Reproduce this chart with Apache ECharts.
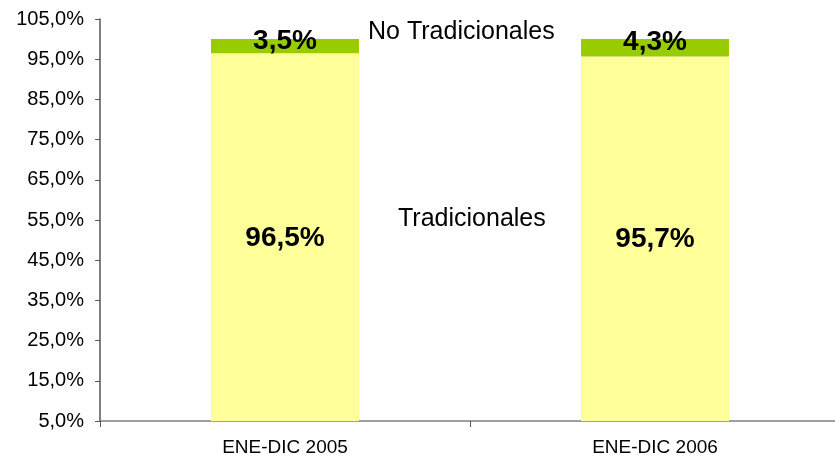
<!DOCTYPE html>
<html><head><meta charset="utf-8">
<script src="https://cdn.jsdelivr.net/npm/echarts@6/dist/echarts.min.js"></script>
<style>html,body{margin:0;padding:0;background:#fff}#c{width:835px;height:466px}</style>
</head><body><div id="c"></div>
<script>
const categories = ['ENE-DIC 2005', 'ENE-DIC 2006'];
const tradicionales = [96.5, 95.7];
const noTradicionales = [3.5, 4.3];
const seriesNames = ['Tradicionales', 'No Tradicionales'];

const fmt = v => v.toFixed(1).replace('.', ',') + '%';
const FONT = 'Liberation Sans, Arial';
const chart = echarts.init(document.getElementById('c'));
chart.setOption({
  animation: false,
  grid: { left: 100, top: 19, width: 740, bottom: 45, outerBoundsMode: 'none', containLabel: false },
  xAxis: {
    type: 'category', data: categories,
    axisLine: { lineStyle: { color: '#808080', width: 1.5 } },
    axisTick: { show: true, length: 6, lineStyle: { color: '#555' } },
    axisLabel: { color: '#000', fontFamily: FONT, fontSize: 19, margin: 17 }
  },
  yAxis: {
    type: 'value', min: 5, max: 105, interval: 10,
    axisLine: { show: true, lineStyle: { color: '#555', width: 1.5 } },
    axisTick: { show: true, inside: false, length: 5, lineStyle: { color: '#555' } },
    splitLine: { show: false },
    axisLabel: { color: '#000', fontFamily: FONT, fontSize: 20, margin: 16, formatter: v => fmt(v) }
  },
  series: [
    { name: seriesNames[0], type: 'bar', stack: 't', data: tradicionales, barWidth: '40%',
      itemStyle: { color: '#FFFF99' },
      label: { show: true, position: 'inside', offset: [0, 1], color: '#000', fontWeight: 'bold', fontSize: 28,
        fontFamily: FONT, formatter: p => fmt(p.value) } },
    { name: seriesNames[1], type: 'bar', stack: 't', data: noTradicionales, barWidth: '40%',
      itemStyle: { color: '#99CC00' },
      label: { show: true, position: 'inside', offset: [0, -5], color: '#000', fontWeight: 'bold', fontSize: 28,
        fontFamily: FONT, formatter: p => fmt(p.value) } }
  ],
  graphic: [
    { type: 'text', left: 368, top: 20, style: { text: seriesNames[1], fill: '#000', fontSize: 25, fontFamily: FONT } },
    { type: 'text', left: 398, top: 207, style: { text: seriesNames[0], fill: '#000', fontSize: 25, fontFamily: FONT } }
  ]
});
</script></body></html>
